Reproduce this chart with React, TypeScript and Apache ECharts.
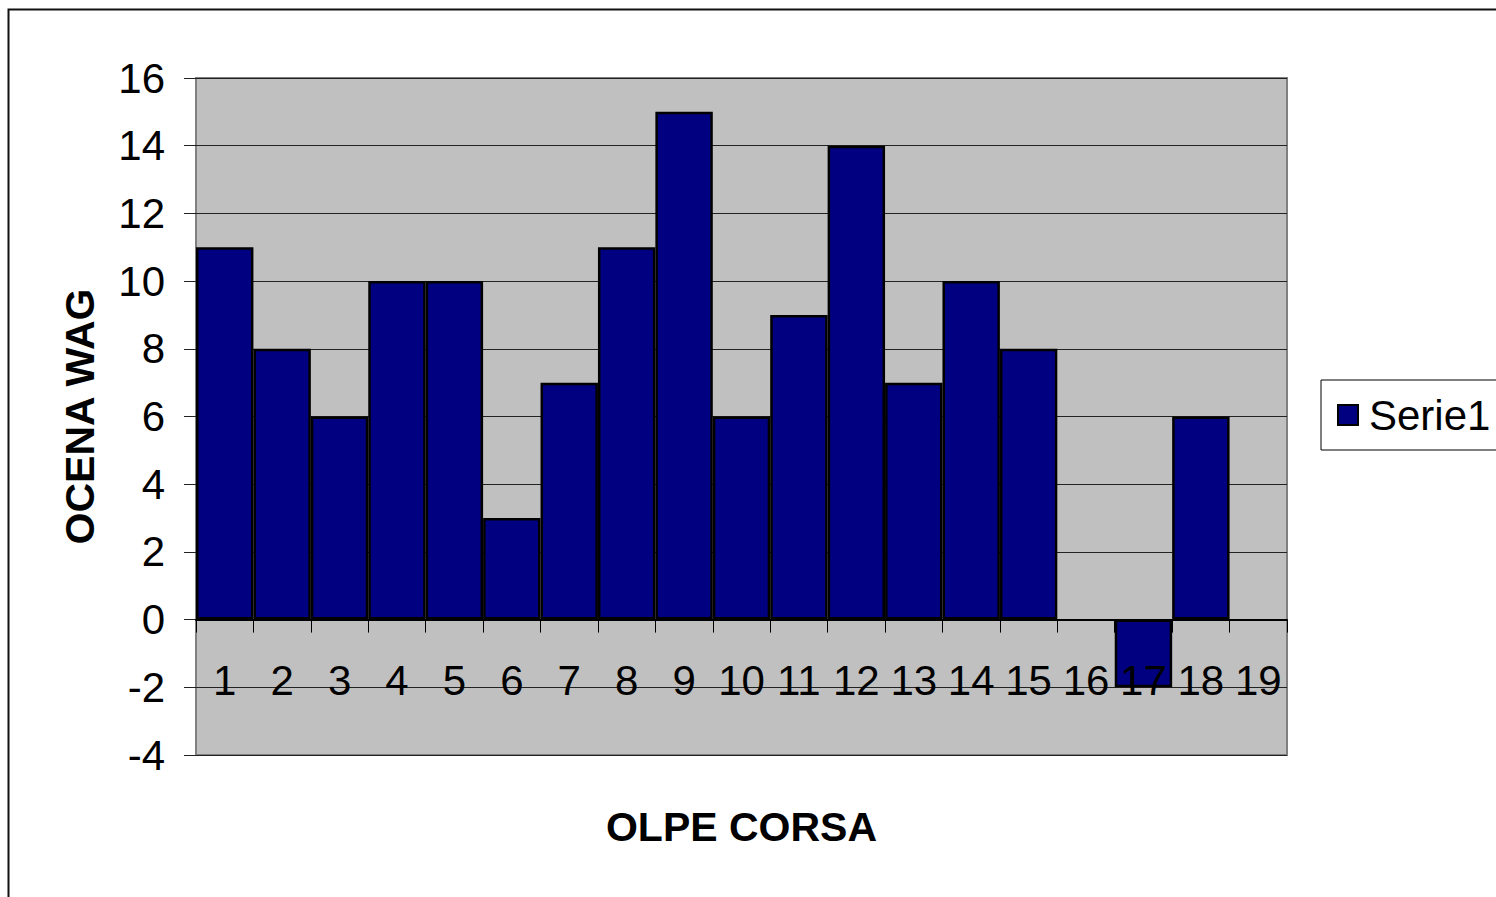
import React, { useEffect, useRef } from "react";
import * as echarts from "echarts";

const categories = ["1","2","3","4","5","6","7","8","9","10","11","12","13","14","15","16","17","18","19"];
const serie1: (number | null)[] = [11, 8, 6, 10, 10, 3, 7, 11, 15, 6, 9, 14, 7, 10, 8, null, -2, 6, null];
const yTicks = { min: -4, max: 16, interval: 2 };
const seriesName = "Serie1";
const xTitle = "OLPE CORSA";
const yTitle = "OCENA WAG";

const FONT = "'Liberation Sans', Arial, sans-serif";

export default function App() {
  const ref = useRef<HTMLDivElement>(null);
  useEffect(() => {
    const chart = echarts.init(ref.current!, null, { renderer: "svg" });
    chart.setOption({
      animation: false,
      backgroundColor: "#ffffff",
      textStyle: { fontFamily: FONT },
      graphic: [
        {
          type: "rect",
          z: 100,
          silent: true,
          shape: { x: 8.5, y: 9.5, width: 1600, height: 1000 },
          style: { fill: "none", stroke: "#111", lineWidth: 2 },
        },
      ],
      grid: {
        left: 196,
        top: 78,
        right: 209,
        bottom: 142,
        containLabel: false,
        outerBoundsMode: "none",
        show: true,
        backgroundColor: "#c0c0c0",
        borderColor: "#808080",
        borderWidth: 2,
      },
      legend: {
        show: true,
        left: 1321,
        top: 380,
        orient: "vertical",
        backgroundColor: "#fff",
        borderColor: "#000",
        borderWidth: 1,
        borderRadius: 0,
        padding: [14, 30, 14, 16],
        itemWidth: 20,
        itemHeight: 20,
        icon: "rect",
        itemStyle: { borderColor: "#000", borderWidth: 2 },
        textStyle: { fontSize: 42, color: "#000", fontFamily: FONT, padding: [0, 0, 0, 6] },
        data: [seriesName],
      },
      xAxis: {
        type: "category",
        data: categories,
        z: 10,
        name: xTitle,
        nameLocation: "middle",
        nameGap: 51,
        nameMoveOverlap: false,
        nameTextStyle: { fontSize: 41, fontWeight: "bold", color: "#000", fontFamily: FONT },
        axisLine: { show: true, onZero: true, lineStyle: { color: "#000", width: 2 } },
        axisTick: { show: true, length: 13, lineStyle: { color: "#000", width: 1 } },
        axisLabel: { fontSize: 42, color: "#000", margin: -96, fontFamily: FONT, interval: 0 },
        splitLine: { show: false },
      },
      yAxis: {
        type: "value",
        min: yTicks.min,
        max: yTicks.max,
        interval: yTicks.interval,
        name: yTitle,
        nameLocation: "middle",
        nameRotate: 90,
        nameGap: 96,
        nameTextStyle: { fontSize: 41, fontWeight: "bold", color: "#000", fontFamily: FONT },
        axisLine: { show: false },
        axisTick: { show: true, length: 12, lineStyle: { color: "#222", width: 1 } },
        axisLabel: { fontSize: 42, color: "#000", margin: 31, fontFamily: FONT },
        splitLine: { show: true, lineStyle: { color: "#222", width: 1 } },
      },
      series: [
        {
          name: seriesName,
          type: "bar",
          data: serie1,
          barCategoryGap: "0%",
          itemStyle: { color: "#000080", borderColor: "#000", borderWidth: 2.5 },
        },
      ],
    });
    return () => chart.dispose();
  }, []);
  return (
    <div
      ref={ref}
      style={{ position: "fixed", left: 0, top: 0, width: 1496, height: 897, overflow: "hidden" }}
    />
  );
}
